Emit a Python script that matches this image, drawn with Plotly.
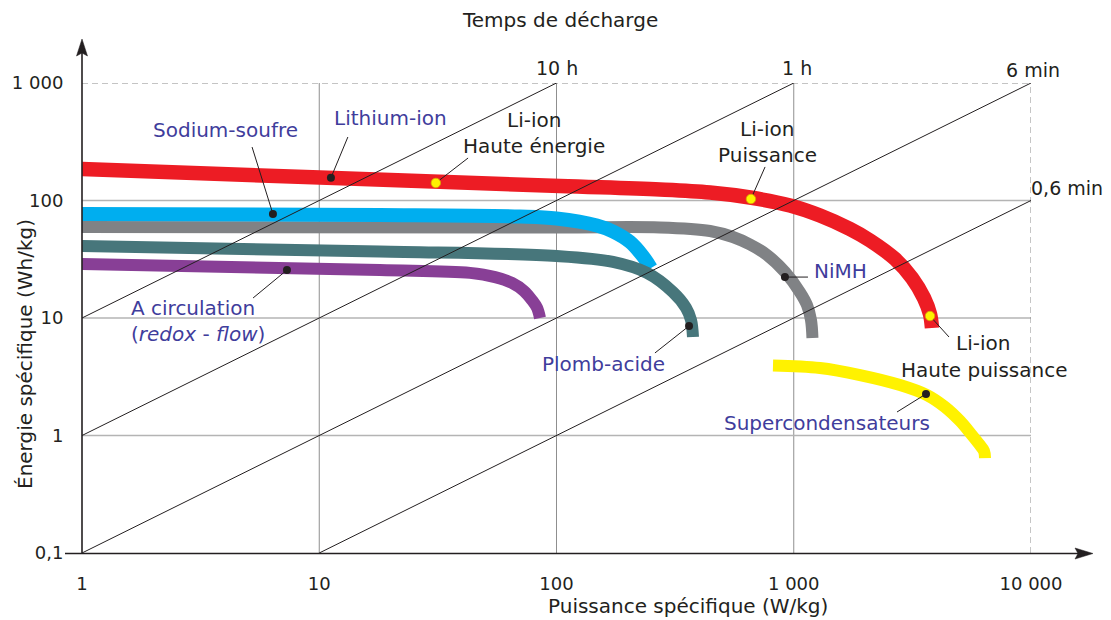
import plotly.graph_objects as go

W, H = 1111, 620
ML, MR, MT, MB = 82, 80, 83, 67
PW, PH = W - ML - MR, H - MT - MB

FONT = "DejaVu Sans"
TXT = "#231f20"
LBL = "#3f3d9c"

# ---------------- data ----------------
# Li-ion (red band)
p_liion = [1, 10.07, 103.5, 273.1, 443.6, 654.0, 964.3, 1290, 1726, 2096, 2672, 3151, 3540, 3752, 3825]
e_liion = [185.4, 156.9, 132.9, 124.1, 117.0, 106.1, 90.7, 74.5, 57.2, 45.7, 31.8, 21.9, 14.8, 10.8, 8.22]
# Sodium-soufre (blue band)
p_nas = [1, 18.0, 70.2, 100, 148, 173, 204, 231, 250]
e_nas = [76.8, 75.3, 73.1, 70.3, 61.3, 54.5, 44.4, 33.7, 26.6]
# NiMH (grey band)
p_nimh = [1, 100, 273.1, 443.6, 554.3, 654.0, 771.4, 918.8, 1062, 1137, 1182, 1199]
e_nimh = [59.5, 58.9, 58.9, 55.0, 48.9, 42.2, 34.4, 24.6, 16.6, 12.9, 9.62, 6.76]
# Plomb-acide (teal band)
p_pb = [1, 18.0, 100, 173, 240.7, 309.7, 351.5, 368.9, 376.1]
e_pb = [41.0, 36.8, 33.7, 30.0, 24.2, 16.6, 12.2, 9.62, 6.89]
# A circulation / redox-flow (purple band)
p_redox = [1, 18.0, 43.2, 55.1, 64.9, 72.9, 78.8, 82.8, 85.2]
e_redox = [28.8, 25.6, 24.2, 22.3, 19.9, 17.0, 14.2, 12.2, 10.0]
# Supercondensateurs (yellow band)
p_sc = [817.5, 1290, 1902, 2805, 3644, 4340, 5021, 5587, 6037, 6337, 6400]
e_sc = [3.94, 3.75, 3.27, 2.69, 2.21, 1.75, 1.33, 1.030, 0.847, 0.738, 0.643]

# discharge-time lines (E = P * t)
time_labels = ["10 h", "1 h", "6 min", "0,6 min"]
time_p = [[1, 100], [1, 1000], [1, 10000], [10, 10000]]
time_e = [[10, 1000], [1, 1000], [0.1, 1000], [0.1, 100]]

# axis ticks
x_ticks = [1, 10, 100, 1000, 10000]
x_ticktext = ["1", "10", "100", "1 000", "10 000"]
y_ticks = [0.1, 1, 10, 100, 1000]
y_ticktext = ["0,1", "1", "10", "100", "1 000"]
grid_p_solid = [10, 100, 1000]
grid_e_solid = [1, 10, 100]

# callout dots: (P, E) of dot, (P, E) of leader end
dot_black_p = [11.2, 6.38, 7.31, 362, 918, 3609]
dot_black_e = [156, 76.7, 25.6, 8.55, 22.3, 2.256]
lead_black_p = [13.2, 5.21, 5.26, 260, 1148, 2724]
lead_black_e = [347, 285, 14.8, 5.04, 22.3, 1.585]
dot_yel_p = [31.0, 660, 3752]
dot_yel_e = [141, 103, 10.4]
lead_yel_p = [42.4, 757, 4512]
lead_yel_e = [230, 193, 6.89]

fig = go.Figure()


def add_line(x, y, color, width, dash=None, shape="linear"):
    fig.add_trace(go.Scatter(x=x, y=y, mode="lines",
                             line=dict(color=color, width=width, dash=dash, shape=shape, smoothing=1),
                             hoverinfo="skip", showlegend=False))


# grid
for v in grid_p_solid:
    add_line([v, v], [0.1, 1000], "#8f8f8f", 1)
for v in grid_e_solid:
    add_line([1, 10000], [v, v], "#b4b4b4", 1.3)
add_line([1, 10000], [1000, 1000], "#8a8a8a", 1, dash="6px,4px")
add_line([10000, 10000], [0.1, 1000], "#8a8a8a", 1, dash="6px,4px")

# bands
add_line(p_nimh, e_nimh, "#808285", 12, shape="spline")
add_line(p_nas, e_nas, "#00aeef", 14, shape="spline")
add_line(p_pb, e_pb, "#47767b", 12, shape="spline")
add_line(p_redox, e_redox, "#883f96", 12, shape="spline")
add_line(p_liion, e_liion, "#ed1c24", 14.5, shape="spline")
add_line(p_sc, e_sc, "#fff200", 12, shape="spline")

# time lines
for xs, ys in zip(time_p, time_e):
    add_line(xs, ys, TXT, 1)

# leaders
for a, b, c, d in zip(dot_black_p, lead_black_p, dot_black_e, lead_black_e):
    add_line([a, b], [c, d], TXT, 1)
for a, b, c, d in zip(dot_yel_p, lead_yel_p, dot_yel_e, lead_yel_e):
    add_line([a, b], [c, d], TXT, 1)

fig.add_trace(go.Scatter(x=dot_black_p, y=dot_black_e, mode="markers",
                         marker=dict(color=TXT, size=8), hoverinfo="skip", showlegend=False))
fig.add_trace(go.Scatter(x=dot_yel_p, y=dot_yel_e, mode="markers",
                         marker=dict(color="#fff200", size=9.5, line=dict(color="#d4a800", width=0.8)),
                         hoverinfo="skip", showlegend=False))


def pxx(x):
    return (x - ML) / PW


def pyy(y):
    return (H - MB - y) / PH


annots = []


def txt(x, y, s, color=TXT, size=20, **kw):
    annots.append(dict(x=pxx(x), y=pyy(y), xref="paper", yref="paper", text=s, showarrow=False,
                       font=dict(family=FONT, size=size, color=color),
                       xanchor="center", yanchor="middle", **kw))


txt(560, 20, "Temps de décharge")
txt(557, 68, time_labels[0], size=19)
txt(797, 68, time_labels[1], size=19)
txt(1033, 70, time_labels[2], size=19)
txt(1067, 188, time_labels[3], size=19)
txt(225, 130, "Sodium-soufre", LBL)
txt(390, 118, "Lithium-ion", LBL)
txt(534, 120, "Li-ion")
txt(534, 146, "Haute énergie")
txt(767, 129, "Li-ion")
txt(767, 155, "Puissance")
txt(840, 271, "NiMH", LBL)
txt(603, 364, "Plomb-acide", LBL)
txt(193, 308, "A circulation", LBL)
txt(198, 334, "(<i>redox</i> - <i>flow</i>)", LBL)
txt(827, 423, "Supercondensateurs", LBL)
txt(983, 343, "Li-ion")
txt(984, 370, "Haute puissance")
txt(688, 606, "Puissance spécifique (W/kg)")
txt(25, 354, "Énergie spécifique (Wh/kg)", textangle=-90)

shapes = [
    dict(type="line", xref="paper", yref="paper", x0=pxx(82), x1=pxx(82), y0=pyy(554), y1=pyy(52),
         line=dict(color=TXT, width=1.6)),
    dict(type="path", xref="paper", yref="paper",
         path=f"M{pxx(82)},{pyy(39)} L{pxx(76.5)},{pyy(56)} L{pxx(82)},{pyy(53)} L{pxx(87.5)},{pyy(56)} Z",
         fillcolor=TXT, line=dict(color=TXT, width=0.5)),
    dict(type="line", xref="paper", yref="paper", x0=pxx(65), x1=pxx(1080), y0=pyy(553.5), y1=pyy(553.5),
         line=dict(color=TXT, width=1.6)),
    dict(type="path", xref="paper", yref="paper",
         path=f"M{pxx(1093)},{pyy(553.5)} L{pxx(1075)},{pyy(548)} L{pxx(1078)},{pyy(553.5)} L{pxx(1075)},{pyy(559)} Z",
         fillcolor=TXT, line=dict(color=TXT, width=0.5)),
]

fig.update_layout(
    width=W, height=H,
    margin=dict(l=ML, r=MR, t=MT, b=MB),
    paper_bgcolor="white", plot_bgcolor="white",
    font=dict(family=FONT, color=TXT),
    hovermode=False,
    annotations=annots,
    shapes=shapes,
    xaxis=dict(type="log", range=[0, 4], showgrid=False, zeroline=False, showline=False,
               tickvals=x_ticks, ticktext=x_ticktext, ticks="outside", ticklen=14,
               tickcolor="rgba(0,0,0,0)", tickfont=dict(family=FONT, size=18, color=TXT)),
    yaxis=dict(type="log", range=[-1, 3], showgrid=False, zeroline=False, showline=False,
               tickvals=y_ticks, ticktext=y_ticktext, ticks="outside", ticklen=14,
               tickcolor="rgba(0,0,0,0)", tickfont=dict(family=FONT, size=18, color=TXT)),
)

fig.write_html("out.html", config={"displayModeBar": False},
               post_script="document.body.style.margin='0';document.body.style.overflow='hidden';")
